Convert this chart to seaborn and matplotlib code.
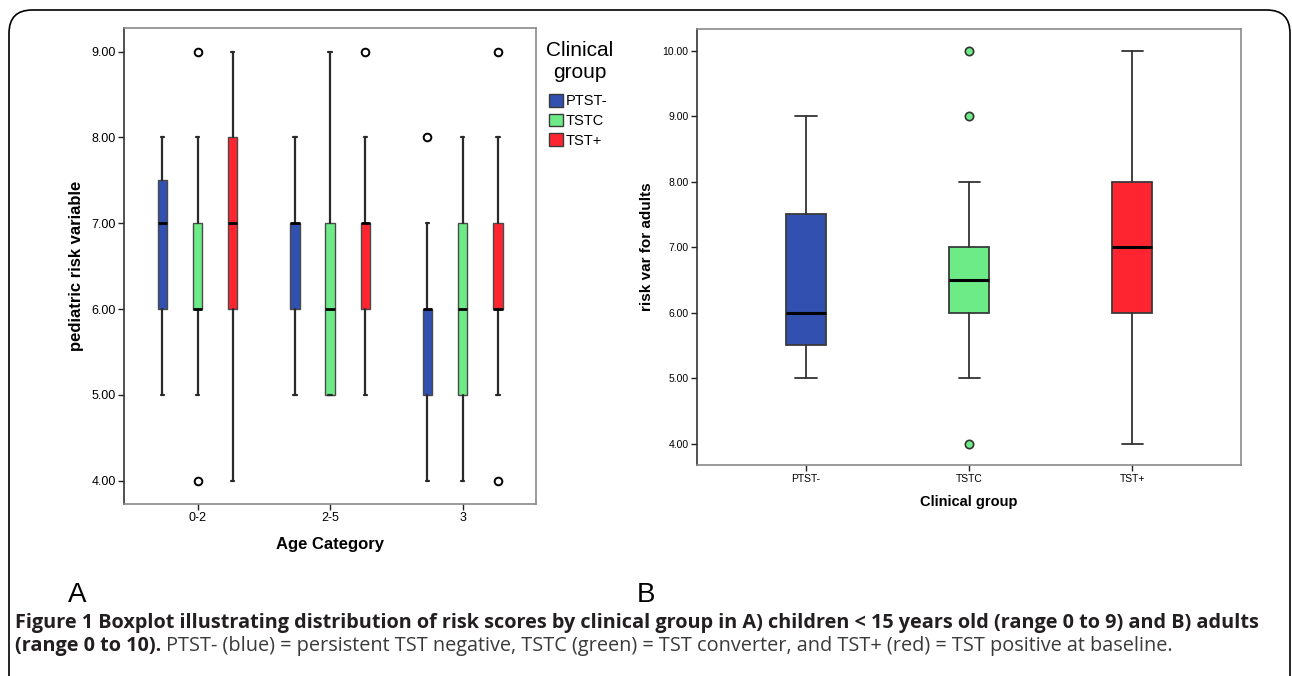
import matplotlib
matplotlib.use("Agg")
import matplotlib.pyplot as plt
import seaborn as sns
from matplotlib.patches import Patch, FancyBboxPatch
from matplotlib import font_manager

groups = ["PTST-", "TSTC", "TST+"]
group_colors = ["#3150B0", "#6DEB86", "#FF2530"]
age_cats = ["0-2", "2-5", "3"]

# children, one summary per age category: [low whisker, q1, median, q3, high whisker]
child_ptst = [[5, 6, 7, 7.5, 8], [5, 6, 7, 7, 8], [4, 5, 6, 6, 7]]
child_tstc = [[5, 6, 6, 7, 8], [5, 5, 6, 7, 9], [4, 5, 6, 7, 8]]
child_tstp = [[4, 6, 7, 8, 9], [5, 6, 7, 7, 8], [5, 6, 6, 7, 8]]
child_ptst_out = [[], [], [8]]
child_tstc_out = [[9, 4], [], []]
child_tstp_out = [[], [9], [9, 4]]

# adults, one summary per clinical group
adult_summary = [[5, 5.5, 6, 7.5, 9], [5, 6, 6.5, 7, 8], [4, 6, 7, 8, 10]]
adult_out = [[], [10, 9, 4], []]

child_ticks = [4, 5, 6, 7, 8, 9]
adult_ticks = [4, 5, 6, 7, 8, 9, 10]

W, H = 1292, 676


def make_stats(summary, fliers):
    lo, q1, med, q3, hi = summary
    return dict(whislo=lo, q1=q1, med=med, q3=q3, whishi=hi, fliers=fliers)


def style_axis(ax, ticks):
    ax.set_yticks(ticks)
    ax.set_yticklabels([f"{t:.2f}" for t in ticks])
    for name, sp in ax.spines.items():
        sp.set_visible(True)
        sp.set_color("#8a8a8a")
        sp.set_linewidth(1.2)
    ax.spines["left"].set_color("#333333")
    ax.tick_params(axis="both", direction="out", length=4, width=1,
                   color="#222222", left=True, bottom=True, pad=2,
                   labelcolor="black")
    ax.grid(False)


sns.set_theme(style="white")
plt.rcParams["font.family"] = ["Liberation Sans", "DejaVu Sans"]
plt.rcParams["text.color"] = "black"
plt.rcParams["axes.labelcolor"] = "black"

fig = plt.figure(figsize=(W / 100, H / 100), dpi=100)

# ---- panel A: children
ax1 = fig.add_axes([124 / W, 1 - 504 / H, 412 / W, 476 / H])
child_sets = [(child_ptst, child_ptst_out), (child_tstc, child_tstc_out),
              (child_tstp, child_tstp_out)]
offsets = [-0.266, 0.0, 0.266]
for (summ, outs), off, col in zip(child_sets, offsets, group_colors):
    stats = [make_stats(s, o) for s, o in zip(summ, outs)]
    pos = [i + off for i in range(len(age_cats))]
    ax1.bxp(stats, positions=pos, widths=0.07, capwidths=0.025,
            patch_artist=True, manage_ticks=False,
            boxprops=dict(facecolor=col, edgecolor="#4a4a4a", linewidth=1),
            medianprops=dict(color="black", linewidth=2),
            whiskerprops=dict(color="#2a2a2a", linewidth=1.6),
            capprops=dict(color="#2a2a2a", linewidth=1.6),
            flierprops=dict(marker="o", markersize=5.5, markerfacecolor="white",
                            markeredgecolor="black", markeredgewidth=1.4))
ax1.set_xlim(-0.555, 2.553)
ax1.set_ylim(3.728, 9.276)
ax1.set_xticks(range(len(age_cats)))
ax1.set_xticklabels(age_cats)
style_axis(ax1, child_ticks)
ax1.tick_params(labelsize=9)
ax1.set_xlabel("Age Category", fontsize=12, fontweight="bold", labelpad=9)
ax1.set_ylabel("pediatric risk variable", fontsize=12, fontweight="bold", labelpad=5)

# legend for panel A, title drawn as centred text
fig.text(580 / W, 1 - 51 / H, "Clinical", fontsize=15, ha="center", va="center")
fig.text(580 / W, 1 - 73 / H, "group", fontsize=15, ha="center", va="center")
handles = [Patch(facecolor=c, edgecolor="#3a3a3a", linewidth=1) for c in group_colors]
fig.legend(handles, groups, loc="upper left",
           bbox_to_anchor=(549 / W, 1 - 94 / H), frameon=False,
           fontsize=10.5, handlelength=0.95, handleheight=0.95,
           handletextpad=0.2, labelspacing=0.37, borderaxespad=0, borderpad=0)

# ---- panel B: adults
ax2 = fig.add_axes([697 / W, 1 - 465.4 / H, 544 / W, 436.7 / H])
for i, (summ, outs, col) in enumerate(zip(adult_summary, adult_out, group_colors)):
    ax2.bxp([make_stats(summ, outs)], positions=[i], widths=0.246, capwidths=0.13,
            patch_artist=True, manage_ticks=False,
            boxprops=dict(facecolor=col, edgecolor="#3a3a3a", linewidth=1.3),
            medianprops=dict(color="black", linewidth=2.2),
            whiskerprops=dict(color="#333333", linewidth=1.3),
            capprops=dict(color="#333333", linewidth=1.3),
            flierprops=dict(marker="o", markersize=6, markerfacecolor=col,
                            markeredgecolor="#333333", markeredgewidth=1.2))
ax2.set_xlim(-0.669, 2.667)
ax2.set_ylim(3.667, 10.333)
ax2.set_xticks(range(len(groups)))
ax2.set_xticklabels(groups)
style_axis(ax2, adult_ticks)
ax2.tick_params(labelsize=7.5)
ax2.set_xlabel("Clinical group", fontsize=10.5, fontweight="bold", labelpad=8)
ax2.set_ylabel("risk var for adults", fontsize=11, fontweight="bold", labelpad=6)

# panel letters
fig.text(68 / W, 1 - 602 / H, "A", fontsize=20, va="baseline")
fig.text(637 / W, 1 - 602 / H, "B", fontsize=20, va="baseline")

# outer frame
frame = FancyBboxPatch((9 / W, -0.1), 1281 / W, 1.1 - 10 / H,
                       boxstyle="round,pad=0,rounding_size=0.018",
                       transform=fig.transFigure, fill=False,
                       edgecolor="black", linewidth=1.2, mutation_aspect=W / H)
fig.patches.append(frame)

# caption (narrow face if present, sized so line 1 ends near x=1262)
cap_font = ["Open Sans", "DejaVu Sans"]
try:
    font_manager.findfont(font_manager.FontProperties(family="Liberation Sans Narrow"),
                          fallback_to_default=False)
    cap_font = ["Liberation Sans Narrow", "DejaVu Sans"]
except ValueError:
    pass

line1 = fig.text(15 / W, 1 - 628 / H,
                 "Figure 1 Boxplot illustrating distribution of risk scores by clinical group "
                 "in A) children < 15 years old (range 0 to 9) and B) adults",
                 fontsize=12, fontweight="bold", family=cap_font, color="#231f20",
                 va="baseline")
renderer = fig.canvas.get_renderer()
w1 = line1.get_window_extent(renderer).width
cap_size = 12 * (1247 / w1)
line1.set_fontsize(cap_size)

t1 = fig.text(15 / W, 1 - 651 / H, "(range 0 to 10).", fontsize=cap_size,
              fontweight="bold", family=cap_font, color="#231f20", va="baseline")
bb = t1.get_window_extent(renderer)
fig.text((bb.x1 + 5) / W, 1 - 651 / H,
         "PTST- (blue) = persistent TST negative, TSTC (green) = TST converter, "
         "and TST+ (red) = TST positive at baseline.",
         fontsize=cap_size, family=cap_font, color="#3a3a3a", va="baseline")

fig.savefig("out.png", dpi=100)
plt.close(fig)
